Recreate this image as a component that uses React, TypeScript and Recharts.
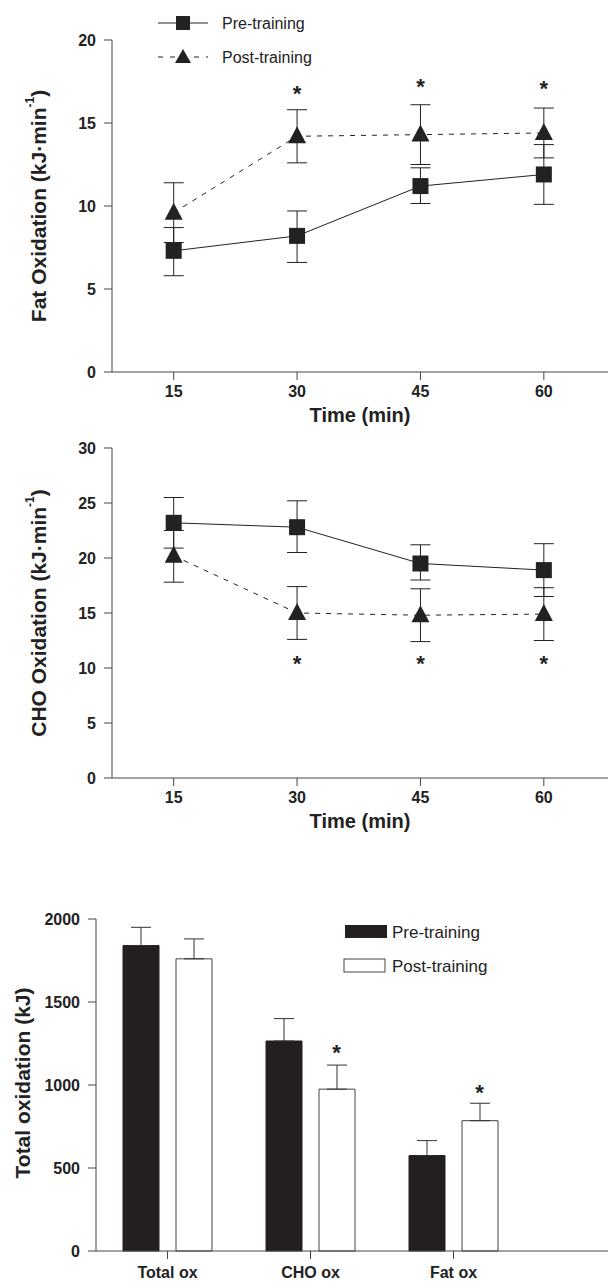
import { ComposedChart, Line, Scatter, XAxis, YAxis, ErrorBar, Bar } from "recharts";

const times = [15, 30, 45, 60];

// Fat oxidation (kJ/min)
const fatPre = [7.3, 8.2, 11.2, 11.9];
const fatPreLo = [5.8, 6.6, 10.15, 10.1];
const fatPreHi = [8.7, 9.7, 12.3, 13.7];
const fatPost = [9.6, 14.2, 14.3, 14.4];
const fatPostLo = [7.8, 12.6, 12.5, 12.9];
const fatPostHi = [11.4, 15.8, 16.1, 15.9];
const fatStars = [null, 16.8, 17.2, 17.1];

// CHO oxidation (kJ/min)
const choPre = [23.2, 22.8, 19.5, 18.9];
const choPreLo = [20.9, 20.5, 18.0, 16.5];
const choPreHi = [25.5, 25.2, 21.2, 21.3];
const choPost = [20.2, 15.0, 14.8, 14.9];
const choPostLo = [17.8, 12.6, 12.4, 12.5];
const choPostHi = [22.5, 17.4, 17.2, 17.3];
const choStars = [null, 10.5, 10.5, 10.5];

// Total oxidation (kJ)
const categories = ["Total ox", "CHO ox", "Fat ox"];
const totPre = [1840, 1265, 575];
const totPreHi = [1950, 1400, 665];
const totPost = [1760, 975, 785];
const totPostHi = [1880, 1120, 890];
const totStars = [null, 1200, 960];

const FONT = "'Liberation Sans', Arial, sans-serif";
const AX = "#444";

const lineData = (pre, preLo, preHi, post, postLo, postHi, stars) =>
  times.map((t, i) => ({
    t,
    pre: pre[i],
    preErr: [pre[i] - preLo[i], preHi[i] - pre[i]],
    post: post[i],
    postErr: [post[i] - postLo[i], postHi[i] - post[i]],
    star: stars[i],
  }));

const SquareDot = (p: any) =>
  p.cx == null ? null : <rect x={p.cx - 8} y={p.cy - 8} width={16} height={16} fill="#222" />;
const TriDot = (p: any) =>
  p.cx == null ? null : (
    <polygon points={`${p.cx},${p.cy - 10} ${p.cx - 9},${p.cy + 7} ${p.cx + 9},${p.cy + 7}`} fill="#222" />
  );
const Star = (p: any) =>
  p.cx == null || p.payload?.star == null ? null : (
    <text x={p.cx} y={p.cy + 8} textAnchor="middle" fontFamily={FONT} fontWeight="bold" fontSize={22} fill="#222">
      *
    </text>
  );

const tickStyle = { fontFamily: FONT, fontWeight: "bold", fontSize: 16, fill: "#222" };

const YTitle = ({ x, cy, text, sup }: { x: number; cy: number; text: string; sup?: string }) => (
  <text
    transform={`translate(${x},${cy}) rotate(-90)`}
    textAnchor="middle"
    dominantBaseline="central"
    fontFamily={FONT}
    fontWeight="bold"
    fontSize={21}
    fill="#222"
  >
    {text}
    {sup && (
      <>
        <tspan fontSize={12} dy={-8}>{sup}</tspan>
        <tspan dy={8}>)</tspan>
      </>
    )}
  </text>
);

function LinePanel({ data, max, ticks, margin, height, title, sup, legend }: any) {
  const plotTop = margin.top;
  const plotBottom = height - margin.bottom - 50;
  return (
    <ComposedChart width={608} height={height} data={data} margin={margin}>
      <XAxis
        dataKey="t"
        type="number"
        domain={[7.5, 67.8]}
        ticks={times}
        tick={tickStyle}
        tickSize={8}
        tickMargin={6}
        height={50}
        stroke={AX}
        label={{ value: "Time (min)", position: "insideBottom", offset: 0, style: { ...tickStyle, fontSize: 20 } }}
      />
      <YAxis
        domain={[0, max]}
        ticks={ticks}
        tick={tickStyle}
        tickSize={8}
        tickMargin={8}
        width={112}
        stroke={AX}
      />
      <Line dataKey="pre" stroke="#222" strokeWidth={1} dot={<SquareDot />} isAnimationActive={false}>
        <ErrorBar dataKey="preErr" width={10} stroke="#222" strokeWidth={1} />
      </Line>
      <Line dataKey="post" stroke="#222" strokeWidth={1} strokeDasharray="5 6" dot={<TriDot />} isAnimationActive={false}>
        <ErrorBar dataKey="postErr" width={10} stroke="#222" strokeWidth={1} />
      </Line>
      <Scatter dataKey="star" shape={<Star />} isAnimationActive={false} />
      <YTitle x={38} cy={(plotTop + plotBottom) / 2} text={title} sup={sup} />
      {legend && (
        <g fontFamily={FONT} fontSize={16} fill="#222">
          <line x1={158} x2={208} y1={23} y2={23} stroke="#222" />
          <rect x={176} y={16} width={14} height={14} fill="#222" />
          <text x={222} y={29}>Pre-training</text>
          <line x1={158} x2={208} y1={57} y2={57} stroke="#222" strokeDasharray="5 7" />
          <polygon points="183,49 175,63 191,63" fill="#222" />
          <text x={222} y={63}>Post-training</text>
        </g>
      )}
    </ComposedChart>
  );
}

export default function App() {
  const fatData = lineData(fatPre, fatPreLo, fatPreHi, fatPost, fatPostLo, fatPostHi, fatStars);
  const choData = lineData(choPre, choPreLo, choPreHi, choPost, choPostLo, choPostHi, choStars);
  const barData = categories.map((c, i) => ({
    c,
    pre: totPre[i],
    preErr: [0, totPreHi[i] - totPre[i]],
    post: totPost[i],
    postErr: [0, totPostHi[i] - totPost[i]],
    star: totStars[i],
  }));

  return (
    <div style={{ position: "absolute", left: 0, top: 0, width: 608, height: 1288, background: "#fff" }}>
      <div style={{ position: "absolute", top: 0, left: 0 }}>
        <LinePanel
          data={fatData}
          max={20}
          ticks={[0, 5, 10, 15, 20]}
          height={430}
          margin={{ top: 40, right: 0, bottom: 8, left: 0 }}
          title="Fat Oxidation (kJ·min"
          sup="-1"
          legend
        />
      </div>
      <div style={{ position: "absolute", top: 430, left: 0 }}>
        <LinePanel
          data={choData}
          max={30}
          ticks={[0, 5, 10, 15, 20, 25, 30]}
          height={440}
          margin={{ top: 18, right: 0, bottom: 42, left: 0 }}
          title="CHO Oxidation (kJ·min"
          sup="-1"
        />
      </div>
      <div style={{ position: "absolute", top: 880, left: 0 }}>
        <ComposedChart
          width={608}
          height={408}
          data={barData}
          margin={{ top: 39, right: 0, bottom: 0, left: 0 }}
          barSize={36}
          barGap={17}
          barCategoryGap={27}
        >
          <XAxis
            dataKey="c"
            tick={tickStyle}
            tickSize={8}
            tickMargin={8}
            height={37}
            stroke={AX}
            padding={{ left: 0, right: 83 }}
          />
          <YAxis
            domain={[0, 2000]}
            ticks={[0, 500, 1000, 1500, 2000]}
            tick={tickStyle}
            tickSize={8}
            tickMargin={8}
            width={96}
            stroke={AX}
          />
          <Bar dataKey="pre" fill="#231f20" stroke="#231f20" isAnimationActive={false}>
            <ErrorBar dataKey="preErr" width={10} stroke="#333" strokeWidth={1} />
          </Bar>
          <Bar dataKey="post" fill="#fff" stroke="#444" isAnimationActive={false}>
            <ErrorBar dataKey="postErr" width={10} stroke="#333" strokeWidth={1} />
          </Bar>
          <Scatter
            dataKey="star"
            isAnimationActive={false}
            shape={(p: any) => <Star {...p} cx={p.cx == null ? null : p.cx + 26} />}
          />
          <YTitle x={22} cy={203} text="Total oxidation (kJ)" />
          <g fontFamily={FONT} fontSize={17} fill="#222">
            <rect x={345} y={45} width={42} height={13} fill="#231f20" />
            <text x={392} y={58}>Pre-training</text>
            <rect x={344} y={79} width={41} height={13} fill="#fff" stroke="#444" />
            <text x={392} y={92}>Post-training</text>
          </g>
        </ComposedChart>
      </div>
    </div>
  );
}
